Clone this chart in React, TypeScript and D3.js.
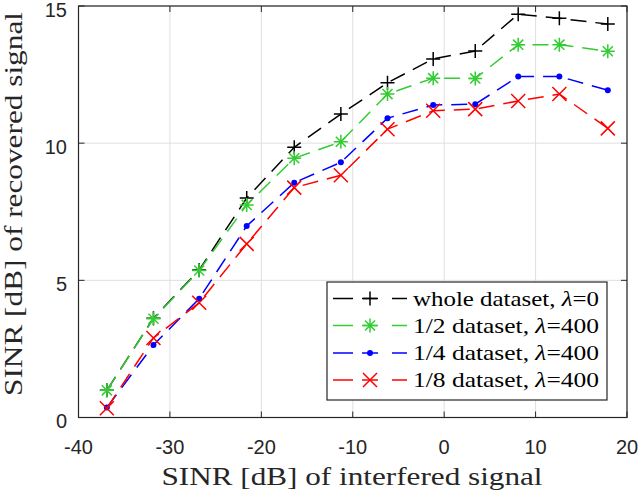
import React from "react";
import * as d3 from "d3";

const sinrIn = [-36.9, -31.8, -26.8, -21.6, -16.4, -11.3, -6.2, -1.2, 3.4, 8.1, 12.6, 17.9];
const whole = [0.99, 3.62, 5.38, 8.0, 9.85, 11.06, 12.2, 13.07, 13.36, 14.7, 14.55, 14.34];
const half = [0.99, 3.6, 5.36, 7.75, 9.45, 10.05, 11.79, 12.37, 12.36, 13.59, 13.59, 13.35];
const quarter = [0.36, 2.64, 4.33, 6.98, 8.56, 9.3, 10.91, 11.39, 11.42, 12.43, 12.43, 11.93];
const eighth = [0.34, 2.9, 4.18, 6.33, 8.38, 8.83, 10.51, 11.18, 11.24, 11.54, 11.79, 10.54];
const xTicks = [-40, -30, -20, -10, 0, 10, 20];
const yTicks = [0, 5, 10, 15];

type Series = { name: string; lambda: string; values: number[]; color: string; marker: string };
const series: Series[] = [
  { name: "whole dataset, ", lambda: "0", values: whole, color: "#000000", marker: "plus" },
  { name: "1/2 dataset, ", lambda: "400", values: half, color: "#33cc33", marker: "star" },
  { name: "1/4 dataset, ", lambda: "400", values: quarter, color: "#0000ff", marker: "dot" },
  { name: "1/8 dataset, ", lambda: "400", values: eighth, color: "#ff0000", marker: "cross" },
];

const W = 640, H = 495;
const L = 78.5, R = 627, T = 6, B = 417.5;
const serif = "'Liberation Serif', 'DejaVu Serif', serif";
const sans = "'Liberation Sans', Arial, sans-serif";

function Marker({ type, x, y, color }: { type: string; x: number; y: number; color: string }) {
  const s = 7;
  if (type === "plus")
    return <path d={`M${x - s},${y}H${x + s}M${x},${y - s}V${y + s}`} stroke={color} strokeWidth={1.5} fill="none" />;
  if (type === "cross")
    return <path d={`M${x - s},${y - s}L${x + s},${y + s}M${x - s},${y + s}L${x + s},${y - s}`} stroke={color} strokeWidth={1.5} fill="none" />;
  if (type === "star") {
    const d = s * 0.72;
    return (
      <path
        d={`M${x - s},${y}H${x + s}M${x},${y - s}V${y + s}M${x - d},${y - d}L${x + d},${y + d}M${x - d},${y + d}L${x + d},${y - d}`}
        stroke={color} strokeWidth={1.5} fill="none"
      />
    );
  }
  return <circle cx={x} cy={y} r={3} fill={color} />;
}

export default function App() {
  const x = d3.scaleLinear().domain([-40, 20]).range([L, R]);
  const y = d3.scaleLinear().domain([0, 15]).range([B, T]);
  const line = d3.line<number>().x((_, i) => x(sinrIn[i])).y((v) => y(v));

  const legX = 327, legY = 282, legW = 280, legH = 118;
  const rowY = [298.5, 325.5, 353, 380];

  return (
    <svg width={W} height={H} style={{ position: "absolute", left: 0, top: 0, background: "#fff" }}>
      <rect x={0} y={0} width={W} height={H} fill="#fff" />
      {/* grid */}
      {xTicks.map((t) => (
        <line key={"gx" + t} x1={x(t)} x2={x(t)} y1={T} y2={B} stroke="#dfdfdf" strokeWidth={1} />
      ))}
      {yTicks.map((t) => (
        <line key={"gy" + t} x1={L} x2={R} y1={y(t)} y2={y(t)} stroke="#dfdfdf" strokeWidth={1} />
      ))}
      {/* ticks */}
      {xTicks.map((t) => (
        <g key={"tx" + t}>
          <line x1={x(t)} x2={x(t)} y1={B} y2={B - 6} stroke="#262626" strokeWidth={1} />
          <line x1={x(t)} x2={x(t)} y1={T} y2={T + 6} stroke="#262626" strokeWidth={1} />
          <text x={x(t)} y={454} textAnchor="middle" fontFamily={sans} fontSize={20} fill="#262626">
            {t}
          </text>
        </g>
      ))}
      {yTicks.map((t) => (
        <g key={"ty" + t}>
          <line x1={L} x2={L + 6} y1={y(t)} y2={y(t)} stroke="#262626" strokeWidth={1} />
          <line x1={R} x2={R - 6} y1={y(t)} y2={y(t)} stroke="#262626" strokeWidth={1} />
          <text x={67} y={y(t) + 10.5} textAnchor="end" fontFamily={sans} fontSize={20} fill="#262626">
            {t}
          </text>
        </g>
      ))}
      {/* series */}
      {series.map((s) => (
        <g key={s.name}>
          <path d={line(s.values) || ""} fill="none" stroke={s.color} strokeWidth={1.5} strokeDasharray="16,9" />
          {s.values.map((v, i) => (
            <Marker key={i} type={s.marker} x={x(sinrIn[i])} y={y(v)} color={s.color} />
          ))}
        </g>
      ))}
      {/* axes box */}
      <rect x={L} y={T} width={R - L} height={B - T} fill="none" stroke="#262626" strokeWidth={1.2} />
      {/* legend */}
      <rect x={legX} y={legY} width={legW} height={legH} fill="#fff" stroke="#262626" strokeWidth={1.2} />
      {series.map((s, i) => (
        <g key={"leg" + i}>
          <line x1={333} x2={353} y1={rowY[i]} y2={rowY[i]} stroke={s.color} strokeWidth={1.5} />
          <line x1={392} x2={407} y1={rowY[i]} y2={rowY[i]} stroke={s.color} strokeWidth={1.5} />
          <line x1={362} x2={378} y1={rowY[i]} y2={rowY[i]} stroke={s.color} strokeWidth={1.5} />
          <Marker type={s.marker} x={370} y={rowY[i]} color={s.color} />
          <text
            x={413}
            y={rowY[i] + 7}
            fontFamily={serif}
            fontSize={21}
            fill="#000"
            textLength={186}
            lengthAdjust="spacingAndGlyphs"
          >
            {s.name}
            <tspan fontStyle="italic">λ</tspan>={s.lambda}
          </text>
        </g>
      ))}
      {/* axis labels */}
      <text
        x={352}
        y={485}
        textAnchor="middle"
        fontFamily={serif}
        fontSize={25}
        fill="#262626"
        textLength={381}
        lengthAdjust="spacingAndGlyphs"
      >
        SINR [dB] of interfered signal
      </text>
      <text
        transform={`translate(22,204) rotate(-90)`}
        textAnchor="middle"
        fontFamily={serif}
        fontSize={25}
        fill="#262626"
        textLength={384}
        lengthAdjust="spacingAndGlyphs"
      >
        SINR [dB] of recovered signal
      </text>
    </svg>
  );
}
